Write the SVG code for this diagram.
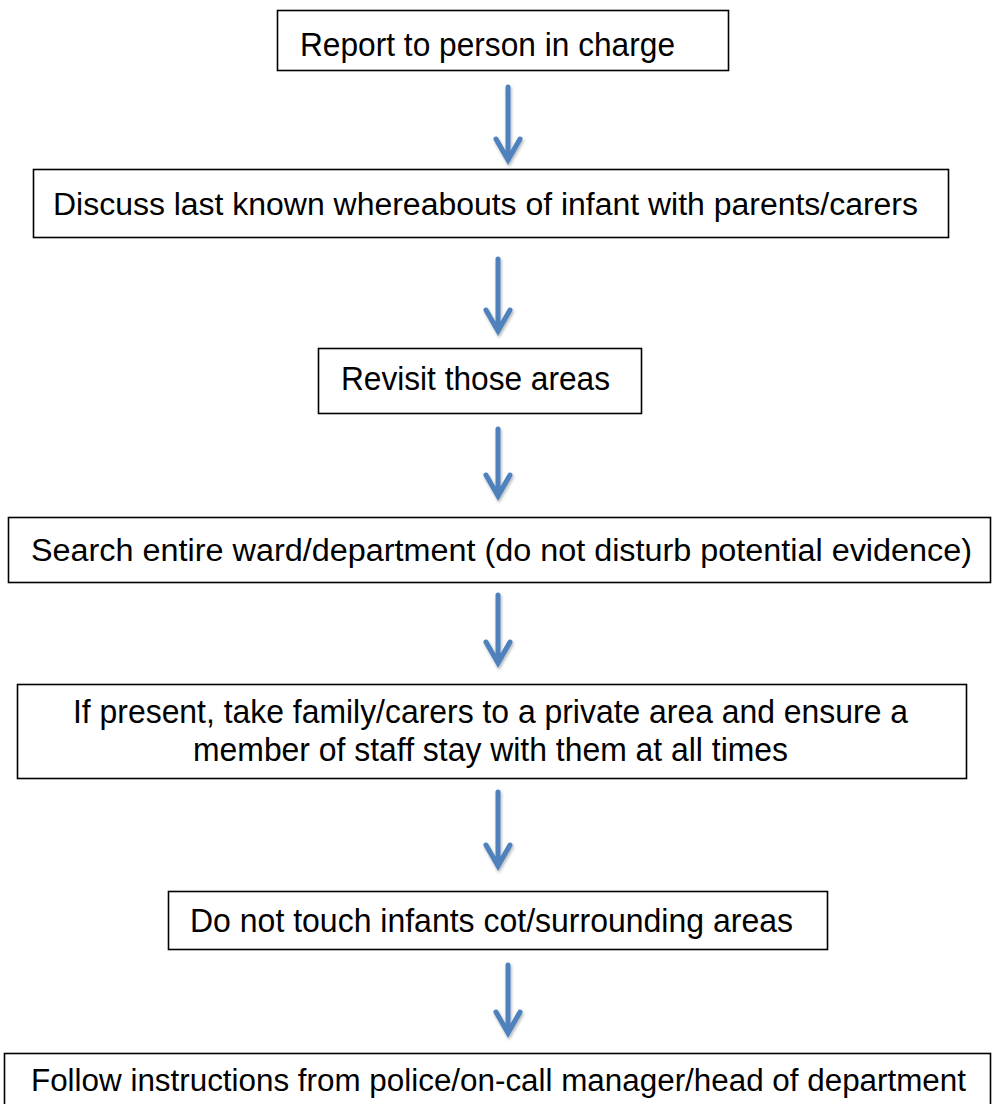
<svg xmlns="http://www.w3.org/2000/svg" width="993" height="1104" viewBox="0 0 993 1104">
<style>
.box{fill:#fff;stroke:#000;stroke-width:1.6}
.t{font-family:"Liberation Sans",Arial,sans-serif;font-size:33px;fill:#000}
.s{font-size:31px}
.arr{fill:none;stroke:#4F81BD;stroke-width:5;stroke-linecap:round;stroke-linejoin:miter}
</style>
<defs>
<filter id="sh" x="-50%" y="-10%" width="200%" height="130%">
<feDropShadow dx="1" dy="2" stdDeviation="1.5" flood-color="#000" flood-opacity="0.3"/>
</filter>
</defs>
<rect width="993" height="1104" fill="#fff"/>
<g id="connectors" filter="url(#sh)">
<path class="arr" d="M508,87 V160 M496,139 L508,160 L520,139"/>
<path class="arr" d="M498,259 V331 M486,310 L498,331 L510,310"/>
<path class="arr" d="M498,429 V496 M486,475 L498,496 L510,475"/>
<path class="arr" d="M498,595 V663 M486,642 L498,663 L510,642"/>
<path class="arr" d="M498,792 V866 M486,845 L498,866 L510,845"/>
<path class="arr" d="M508,965 V1033 M496,1012 L508,1033 L520,1012"/>
</g>
<g id="n1"><rect class="box" x="277.5" y="10.5" width="451" height="60"/>
<text class="t" x="300" y="56" textLength="375" lengthAdjust="spacingAndGlyphs">Report to person in charge</text></g>
<g id="n2"><rect class="box" x="33.5" y="169.5" width="915" height="68"/>
<text class="t s" x="53" y="215" textLength="865" lengthAdjust="spacingAndGlyphs">Discuss last known whereabouts of infant with parents/carers</text></g>
<g id="n3"><rect class="box" x="318.5" y="348.5" width="323" height="65"/>
<text class="t" x="341" y="390" textLength="269" lengthAdjust="spacingAndGlyphs">Revisit those areas</text></g>
<g id="n4"><rect class="box" x="8.5" y="517.5" width="982" height="65"/>
<text class="t s" x="31" y="561" textLength="941" lengthAdjust="spacingAndGlyphs">Search entire ward/department (do not disturb potential evidence)</text></g>
<g id="n5"><rect class="box" x="17.5" y="684.5" width="949" height="94"/>
<text class="t" x="73" y="723" textLength="835" lengthAdjust="spacingAndGlyphs">If present, take family/carers to a private area and ensure a</text>
<text class="t" x="193" y="761" textLength="595" lengthAdjust="spacingAndGlyphs">member of staff stay with them at all times</text></g>
<g id="n6"><rect class="box" x="168.5" y="891.5" width="659" height="58"/>
<text class="t" x="190" y="932" textLength="603" lengthAdjust="spacingAndGlyphs">Do not touch infants cot/surrounding areas</text></g>
<g id="n7"><rect class="box" x="4.5" y="1053.5" width="986" height="60"/>
<text class="t s" x="31" y="1091" textLength="935" lengthAdjust="spacingAndGlyphs">Follow instructions from police/on-call manager/head of department</text></g>
</svg>
